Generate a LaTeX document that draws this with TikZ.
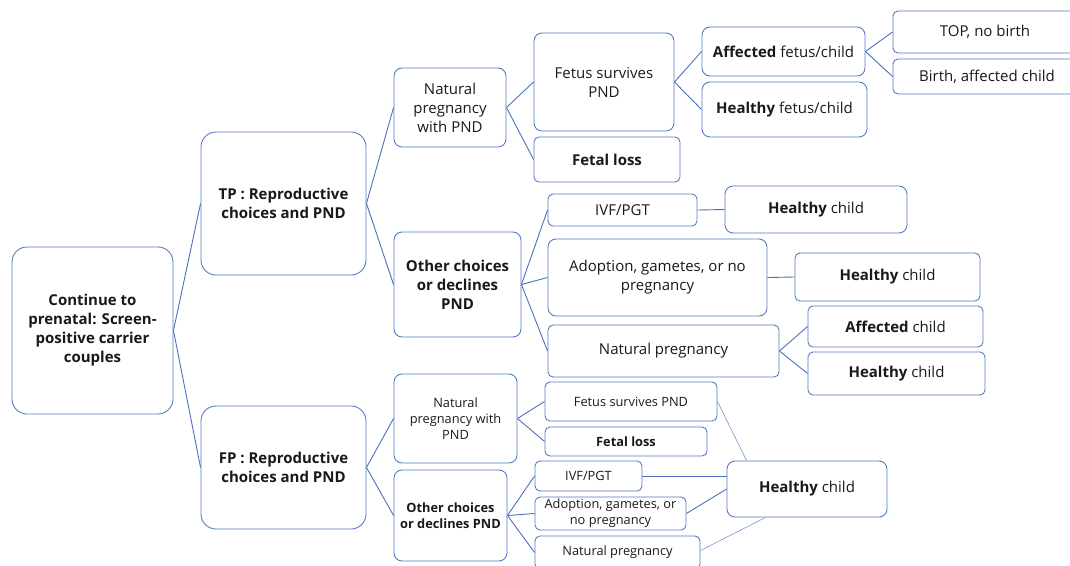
\documentclass[tikz,border=0pt]{standalone}
\usepackage{fontspec}
\setmainfont{Open Sans}
\definecolor{boxblue}{RGB}{86,122,196}
\definecolor{linkblue}{RGB}{76,112,190}
\definecolor{inkgray}{RGB}{25,25,25}
\begin{document}
\begin{tikzpicture}[x=1pt,y=-1pt,
  box/.style={draw=boxblue, line width=0.9pt, rounded corners=8pt, align=center,
    inner sep=0pt, text=inkgray, font=\fontsize{15}{19}\selectfont},
  big/.style={rounded corners=15pt},
  tight/.style={rounded corners=5pt},
  small/.style={font=\fontsize{12.8}{16}\selectfont},
  link/.style={draw=linkblue, line width=0.9pt},
  faint/.style={draw=linkblue!75, line width=0.6pt}]
\useasboundingbox (0,0) rectangle (1070,565);
\clip (0,0) rectangle (1070,565);

% root and the two branches
\node[box,big,minimum width=161pt,minimum height=167pt] (root) at (92.5,330.5)
  {\bfseries Continue to\\\bfseries prenatal: Screen-\\\bfseries positive carrier\\\bfseries couples};
\node[box,big,minimum width=165pt,minimum height=143pt] (tp) at (283.5,203.5)
  {\bfseries TP : Reproductive\\\bfseries choices and PND};
\node[box,big,minimum width=165pt,minimum height=123pt] (fp) at (283.5,467.5)
  {\bfseries FP : Reproductive\\\bfseries choices and PND};

% TP branch
\node[box,minimum width=112pt,minimum height=79pt] (npA) at (450,107.5)
  {Natural\\pregnancy\\with PND};
\node[box,minimum width=140pt,minimum height=98pt] (fsA) at (604,82)
  {Fetus survives\\PND};
\node[box,tight,minimum width=146pt,minimum height=45pt] (flA) at (607,159.5)
  {\bfseries Fetal loss};
\node[box,minimum width=163pt,minimum height=49pt] (afA) at (783.5,51.5)
  {\textbf{Affected} fetus/child};
\node[box,minimum width=165pt,minimum height=55pt] (hfA) at (784.5,109.5)
  {\textbf{Healthy} fetus/child};
\node[box,tight,minimum width=184pt,minimum height=42pt] (topA) at (985,32)
  {TOP, no birth};
\node[box,tight,minimum width=188pt,minimum height=35pt] (birthA) at (987,76.5)
  {Birth, affected child};
\node[box,minimum width=127pt,minimum height=105pt] (ocA) at (457.5,284.5)
  {\bfseries Other choices\\\bfseries or declines\\\bfseries PND};
\node[box,tight,minimum width=149pt,minimum height=32pt] (ivfA) at (622.5,210)
  {IVF/PGT};
\node[box,minimum width=219pt,minimum height=77pt] (adA) at (657.5,277.5)
  {Adoption, gametes, or no\\pregnancy};
\node[box,tight,minimum width=231pt,minimum height=52pt] (natA) at (663.5,351)
  {Natural pregnancy};
\node[box,minimum width=182pt,minimum height=47pt] (hc1) at (816,209.5)
  {\textbf{Healthy} child};
\node[box,tight,minimum width=185pt,minimum height=48pt] (hc2) at (887.5,277)
  {\textbf{Healthy} child};
\node[box,tight,minimum width=175pt,minimum height=41pt] (acA) at (895.5,326.5)
  {\textbf{Affected} child};
\node[box,tight,minimum width=177pt,minimum height=43pt] (hc3) at (896.5,373.5)
  {\textbf{Healthy} child};

% FP branch
\node[box,small,minimum width=123pt,minimum height=89pt] (npB) at (455.5,418.5)
  {Natural\\pregnancy with\\PND};
\node[box,small,tight,minimum width=172pt,minimum height=39pt] (fsB) at (631,401.5)
  {Fetus survives PND};
\node[box,small,tight,minimum width=162pt,minimum height=29pt] (flB) at (626,441.5)
  {\bfseries Fetal loss};
\node[box,small,minimum width=113pt,minimum height=91pt] (ocB) at (450.5,515.5)
  {\bfseries Other choices\\\bfseries or declines PND};
\node[box,small,tight,minimum width=107pt,minimum height=30pt] (ivfB) at (588.5,476)
  {IVF/PGT};
\node[box,small,tight,minimum width=151pt,minimum height=33pt] (adB) at (610.5,513.5)
  {Adoption, gametes, or\\no pregnancy};
\node[box,small,tight,minimum width=165pt,minimum height=33pt] (natB) at (617.5,552.5)
  {Natural pregnancy};
\node[box,minimum width=160pt,minimum height=56pt] (hcB) at (807,489)
  {\textbf{Healthy} child};

% connectors
\draw[link] (root.east) -- (tp.west);
\draw[link] (root.east) -- (fp.west);
\draw[link] (tp.east) -- (npA.west);
\draw[link] (tp.east) -- (ocA.west);
\draw[link] (npA.east) -- (fsA.west);
\draw[link] (npA.east) -- (flA.west);
\draw[link] (fsA.east) -- (afA.west);
\draw[link] (fsA.east) -- (hfA.west);
\draw[link] (afA.east) -- (topA.west);
\draw[link] (afA.east) -- (birthA.west);
\draw[link] (ocA.east) -- (ivfA.west);
\draw[link] (ocA.east) -- (adA.west);
\draw[link] (ocA.east) -- (natA.west);
\draw[link] (ivfA.east) -- (hc1.west);
\draw[link] (adA.east) -- (hc2.west);
\draw[link] (natA.east) -- (acA.west);
\draw[link] (natA.east) -- (hc3.west);
\draw[link] (fp.east) -- (npB.west);
\draw[link] (fp.east) -- (ocB.west);
\draw[link] (npB.east) -- (fsB.west);
\draw[link] (npB.east) -- (flB.west);
\draw[link] (ocB.east) -- (ivfB.west);
\draw[link] (ocB.east) -- (adB.west);
\draw[link] (ocB.east) -- (natB.west);

% outcomes merging into one healthy child box
\coordinate (hcBtop) at ([xshift=20pt]hcB.north west);
\coordinate (hcBbot) at ([xshift=39pt]hcB.south west);
\draw[faint] (fsB.east) -- (hcBtop);
\draw[link] (ivfB.east) -- (ivfB.east -| hcB.west);
\draw[link] (adB.east) -- (hcB.west);
\draw[faint] ([yshift=2pt]natB.east) -- (hcBbot);
\end{tikzpicture}
\end{document}
